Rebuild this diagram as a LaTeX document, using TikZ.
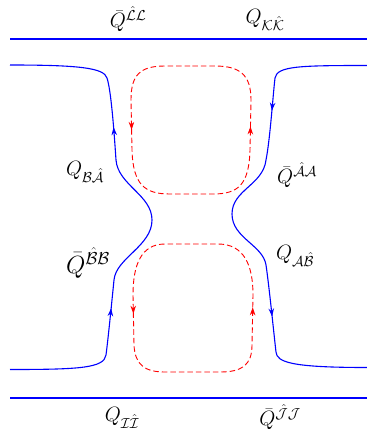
\documentclass[tikz,border=0pt]{standalone}
\usetikzlibrary{arrows.meta,decorations.markings}
\begin{document}
\begin{tikzpicture}[x=1pt,y=-1pt,
  bline/.style={blue,line width=1.1pt},
  rloop/.style={red,line width=0.9pt,dash pattern=on 5.5pt off 3pt},
  tip/.tip={Stealth[length=8pt,width=5.5pt]},
  lab/.style={inner sep=0pt,font=\fontsize{20}{24}\selectfont},
  labbig/.style={inner sep=0pt,font=\fontsize{25}{30}\selectfont}]
\useasboundingbox (0,0) rectangle (367,437);

% horizontal lines
\coordinate (tl) at (10,39);  \coordinate (tr) at (367,39);
\coordinate (bl) at (10,398); \coordinate (br) at (367,398);
\draw[bline] (tl) -- (tr);
\draw[bline] (bl) -- (br);

% left blue curve (from bottom to top)
\coordinate (Lb) at (10,369.5);
\coordinate (Lt) at (10,65);
\draw[bline,
  postaction={decorate},decoration={markings,
    mark=at position 148pt with {\arrow{tip}},
    mark=at position 354pt with {\arrow{tip}}}]
  (Lb) .. controls (80,369.5) and (104,368) .. (106,355)
  .. controls (108,340) and (112,300) .. (114,280)
  .. controls (116,258) and (152,246) .. (152,220)
  .. controls (152,195) and (118,185) .. (116,160)
  .. controls (114,130) and (111,90) .. (107,78)
  .. controls (104,68) and (80,65) .. (Lt);

% right blue curve (from top to bottom)
\coordinate (Rt) at (367,65.5);
\coordinate (Rb) at (367,367.5);
\draw[bline,
  postaction={decorate},decoration={markings,
    mark=at position 129pt with {\arrow{tip}},
    mark=at position -132pt with {\arrow{tip}}}]
  (Rt) .. controls (300,65.5) and (277,66) .. (275,78)
  .. controls (273,95) and (270,140) .. (266,160)
  .. controls (263,185) and (232,190) .. (232,214)
  .. controls (232,238) and (263,245) .. (266,265)
  .. controls (269,285) and (274,335) .. (276,352)
  .. controls (277,362) and (290,367.5) .. (Rb);

% top red loop
\coordinate (T0) at (190,66);
\draw[rloop,
  postaction={decorate},decoration={markings,
    mark=at position 0.252 with {\arrow[solid]{tip}},
    mark=at position 0.753 with {\arrow[solid]{tip}}}]
  (T0) -- (165,66) .. controls (140,66) and (131,75) .. (131,100)
  -- (132,150) .. controls (133,185) and (145,194) .. (170,194)
  -- (213,194) .. controls (238,194) and (249,185) .. (250,150)
  -- (251,100) .. controls (251,75) and (240,66) .. (215,66) -- cycle;

% bottom red loop
\coordinate (B0) at (190,244);
\draw[rloop,
  postaction={decorate},decoration={markings,
    mark=at position 0.253 with {\arrow[solid]{tip}},
    mark=at position 0.75 with {\arrow[solid]{tip}}}]
  (B0) -- (165,244) .. controls (141,244) and (133,265) .. (133,295)
  -- (134,345) .. controls (135,365) and (145,372) .. (165,372)
  -- (220,372) .. controls (242,372) and (252,365) .. (252,345)
  -- (253,295) .. controls (253,265) and (244,244) .. (218,244) -- cycle;

% labels
\node[lab] (LL) at (128,19) {$\bar{Q}^{\hat{\mathcal{L}}\mathcal{L}}$};
\node[lab] (KK) at (265,20) {$Q_{\mathcal{K}\hat{\mathcal{K}}}$};
\node[lab] (BA) at (85,172) {$Q_{\mathcal{B}\hat{\mathcal{A}}}$};
\node[labbig] (BB) at (88,263) {$\bar{Q}^{\hat{\mathcal{B}}\mathcal{B}}$};
\node[lab] (AA) at (297,175) {$\bar{Q}^{\hat{\mathcal{A}}\mathcal{A}}$};
\node[lab] (AB) at (295,256) {$Q_{\mathcal{A}\hat{\mathcal{B}}}$};
\node[lab] (II) at (122,418) {$Q_{\mathcal{I}\hat{\mathcal{I}}}$};
\node[lab] (JJ) at (280,417) {$\bar{Q}^{\hat{\mathcal{J}}\mathcal{J}}$};
\end{tikzpicture}
\end{document}
